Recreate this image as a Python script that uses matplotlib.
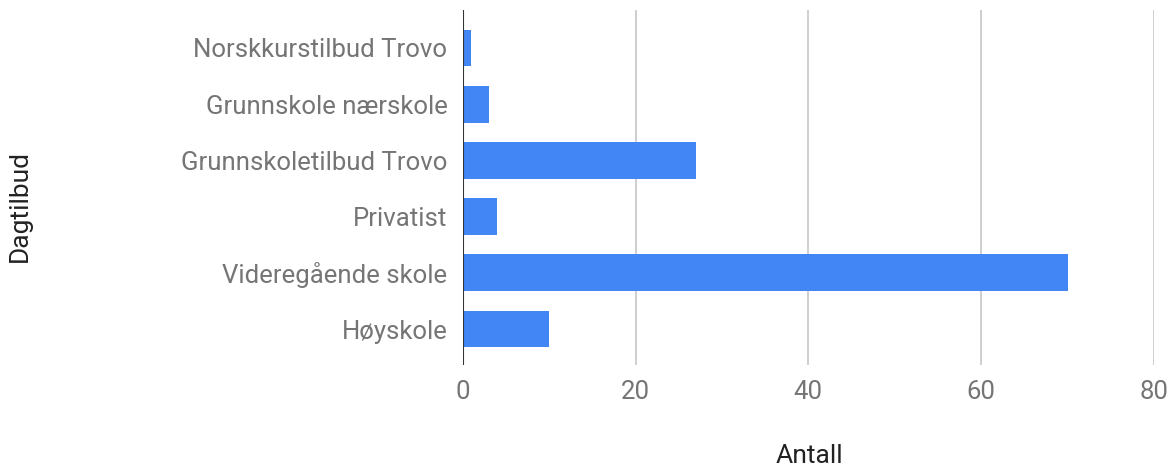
import matplotlib.pyplot as plt
import numpy as np

categories = ['Norskkurstilbud Trovo', 'Grunnskole nærskole', 'Grunnskoletilbud Trovo',
              'Privatist', 'Videregående skole', 'Høyskole']
values = [1, 3, 27, 4, 70, 10]
x_ticks = [0, 20, 40, 60, 80]

plt.rcParams['font.family'] = ['Roboto', 'DejaVu Sans']
grey = '#757575'

fig = plt.figure(figsize=(11.72, 4.67), dpi=100)
ax = fig.add_axes([462.7 / 1172, 1 - 365 / 467, (1154 - 462.7) / 1172, 355 / 467])

y = np.arange(len(categories))
ax.barh(y, values, height=0.655, color='#4285F4', zorder=3)

ax.set_xlim(0, 80)
ax.set_ylim(5.64, -0.676)
ax.set_xticks(x_ticks)
ax.set_yticks(y)
ax.set_yticklabels(categories)
ax.tick_params(axis='both', length=0, labelsize=18.5, colors=grey)
ax.tick_params(axis='x', pad=11)
ax.tick_params(axis='y', pad=11)

ax.grid(axis='x', color='#cccccc', linewidth=1.3, zorder=0)
ax.axvline(0, color='#333333', linewidth=1.5, zorder=4)
for s in ax.spines.values():
    s.set_visible(False)

fig.text(809 / 1172, 1 - 456 / 467, 'Antall', ha='center', va='center', fontsize=19, color='#222222')
fig.text(20 / 1172, 1 - 206 / 467, 'Dagtilbud', ha='center', va='center', rotation=90,
         fontsize=19, color='#222222')

fig.savefig('out.png', dpi=100)
